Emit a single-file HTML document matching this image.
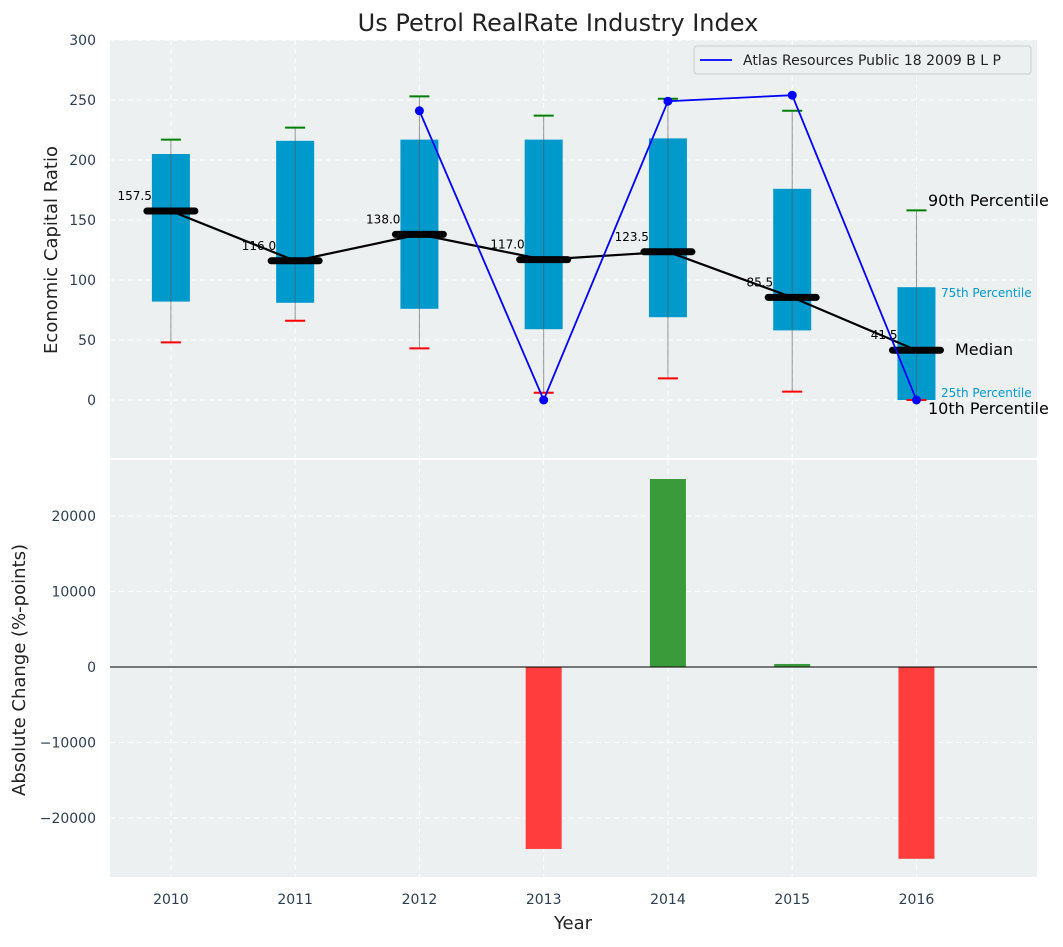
<!DOCTYPE html>
<html><head><meta charset="utf-8"><style>
body{margin:0;background:#fff;font-family:"Liberation Sans","DejaVu Sans",sans-serif;}
svg text{font-family:"DejaVu Sans","Liberation Sans",sans-serif;}
</style></head><body>
<svg id="chart" width="1063" height="942" xmlns="http://www.w3.org/2000/svg"></svg>
<script>
const years=[2010,2011,2012,2013,2014,2015,2016];
const q1=[82,81,76,59,69,58,0];
const q3=[205,216,217,217,218,176,94];
const p10=[48,66,43,6,18,7,0];
const p90=[217,227,253,237,251,241,158];
const medians=[157.5,116.0,138.0,117.0,123.5,85.5,41.5];
const lineYears=[2012,2013,2014,2015,2016];
const lineVals=[241,0,249,254,0];
const changeYears=[2013,2014,2015,2016];
const changeVals=[-24100,24900,400,-25400];
const topTicks=[0,50,100,150,200,250,300];
const botTicks=[-20000,-10000,0,10000,20000];

const svg=document.getElementById('chart');
const NS='http://www.w3.org/2000/svg';
function el(tag,attrs,parent,text){const e=document.createElementNS(NS,tag);for(const k in attrs)e.setAttribute(k,attrs[k]);if(text!==undefined)e.textContent=text;(parent||svg).appendChild(e);return e;}
const L=110,R=1037;
const x=v=>L+(v-2009.51)/(2016.97-2009.51)*(R-L);
const yT=v=>400-v*1.2;
const yB=v=>667-v*151/20000;

let p=el('rect',{x:L,y:40,width:R-L,height:418,fill:'#ecf0f1'});


p=el('rect',{x:L,y:460,width:R-L,height:417,fill:'#ecf0f1'});



years.forEach(yr=>{
 el('line',{x1:x(yr),x2:x(yr),y1:40,y2:458,stroke:'#fff','stroke-dasharray':'5,4','stroke-width':1});
 el('line',{x1:x(yr),x2:x(yr),y1:460,y2:877,stroke:'#fff','stroke-dasharray':'5,4','stroke-width':1});
 const t=el('text',{x:x(yr),y:904,'text-anchor':'middle','font-size':14,fill:'#2c3e50'},null,yr);
 
 
});
topTicks.forEach(v=>{
 el('line',{x1:L,x2:R,y1:yT(v),y2:yT(v),stroke:'#fff','stroke-dasharray':'5,4'});
 const t=el('text',{x:96,y:yT(v)+5,'text-anchor':'end','font-size':14,fill:'#2c3e50'},null,v);
 
 
});
botTicks.forEach(v=>{
 el('line',{x1:L,x2:R,y1:yB(v),y2:yB(v),stroke:'#fff','stroke-dasharray':'5,4'});
 const t=el('text',{x:96,y:yB(v)+5,'text-anchor':'end','font-size':14,fill:'#2c3e50'},null,String(v).replace('-','\u2212'));
 
 
});

years.forEach((yr,i)=>{
 const cx=x(yr);
 const b=el('rect',{x:cx-19,y:yT(q3[i]),width:38,height:yT(q1[i])-yT(q3[i]),fill:'#0099cc'});
 
 
 el('line',{x1:cx,x2:cx,y1:yT(p90[i]),y2:yT(p10[i]),stroke:'#555','stroke-opacity':0.6,'stroke-width':1});
 el('line',{x1:cx-10,x2:cx+10,y1:yT(p90[i]),y2:yT(p90[i]),stroke:'green','stroke-width':2});
 el('line',{x1:cx-10,x2:cx+10,y1:yT(p10[i]),y2:yT(p10[i]),stroke:'red','stroke-width':2});
});
el('polyline',{points:years.map((yr,i)=>x(yr)+','+yT(medians[i])).join(' '),fill:'none',stroke:'#000','stroke-width':2.2});
years.forEach((yr,i)=>{
 const cx=x(yr);
 const m=el('line',{x1:cx-24,x2:cx+24,y1:yT(medians[i]),y2:yT(medians[i]),stroke:'#000','stroke-width':7,'stroke-linecap':'round'});
 
 
 const t=el('text',{x:cx-19,y:yT(medians[i])-11,'text-anchor':'end','font-size':12,fill:'#000'},null,medians[i].toFixed(1));
 
 
});
el('polyline',{points:lineYears.map((yr,i)=>x(yr)+','+yT(lineVals[i])).join(' '),fill:'none',stroke:'blue','stroke-width':1.8});
lineYears.forEach((yr,i)=>{
 const c=el('circle',{cx:x(yr),cy:yT(lineVals[i]),r:4.5,fill:'blue'});
 
 
});
const ann=[['90th Percentile',928,206,16,'#000'],['75th Percentile',941,297,12,'#0099cc'],['Median',955,355,16,'#000'],['25th Percentile',941,397,12,'#0099cc'],['10th Percentile',928,414,16,'#000']];
ann.forEach(a=>{const t=el('text',{x:a[1],y:a[2],'font-size':a[3],fill:a[4]},null,a[0]);
 
 });

const lg=el('g',{});


el('rect',{x:694,y:46,width:337,height:28,fill:'#ecf0f1',stroke:'#ccc',rx:3},lg);
el('line',{x1:700,x2:732,y1:60,y2:60,stroke:'blue','stroke-width':1.8},lg);
el('text',{x:743,y:65,'font-size':14,fill:'#222'},lg,'Atlas Resources Public 18 2009 B L P');

changeYears.forEach((yr,i)=>{
 const v=changeVals[i];
 const b=el('rect',{x:x(yr)-18,y:Math.min(yB(v),yB(0)),width:36,height:Math.abs(yB(v)-yB(0)),fill:v>=0?'#3a9b3a':'#ff3d3d'});
 
 
});
el('line',{x1:L,x2:R,y1:yB(0),y2:yB(0),stroke:'#000','stroke-width':1});

let t=el('text',{x:558,y:31,'text-anchor':'middle','font-size':24,fill:'#222'},null,'Us Petrol RealRate Industry Index');


t=el('text',{x:573,y:929,'text-anchor':'middle','font-size':18,fill:'#222'},null,'Year');


t=el('text',{x:57,y:250,'text-anchor':'middle','font-size':18,fill:'#222',transform:'rotate(-90 57 250)'},null,'Economic Capital Ratio');


t=el('text',{x:25,y:670,'text-anchor':'middle','font-size':18,fill:'#222',transform:'rotate(-90 25 670)'},null,'Absolute Change (%-points)');


</script>
</body></html>
